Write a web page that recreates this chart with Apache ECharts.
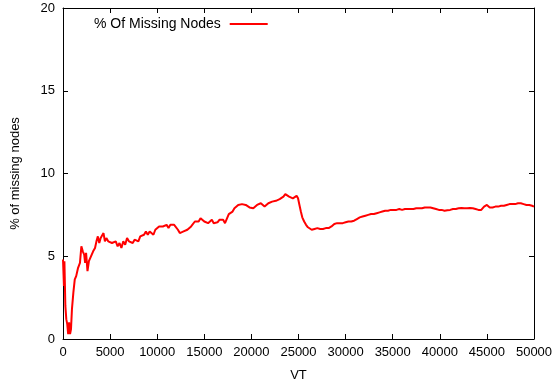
<!DOCTYPE html>
<html>
<head>
<meta charset="utf-8">
<script src="https://cdn.jsdelivr.net/npm/echarts@6/dist/echarts.min.js"></script>
<style>
  html, body { margin: 0; padding: 0; background: #fff; }
  #chart { width: 555px; height: 385px; }
</style>
</head>
<body>
<div id="chart"></div>
<script>
const seriesName = '% Of Missing Nodes'
const xTicks = [0, 5000, 10000, 15000, 20000, 25000, 30000, 35000, 40000, 45000, 50000]
const yTicks = [0, 5, 10, 15, 20]

// VT positions and matching % of missing nodes
const vt = [
  0, 100, 150, 250, 350, 450, 550, 650, 750, 850, 950, 1100, 1250, 1400, 1600, 1800, 1950, 2100, 2250, 2350,
  2450, 2600, 2750, 2900, 3050, 3200, 3400, 3550, 3700, 3850, 4000, 4150, 4300, 4450, 4600, 4800, 5000, 5200, 5400, 5600,
  5800, 6000, 6200, 6400, 6600, 6800, 7000, 7200, 7400, 7600, 7800, 8000, 8200, 8400, 8600, 8800, 9000, 9200, 9400, 9600,
  9800, 10000, 10200, 10400, 10600, 10800, 11000, 11200, 11400, 11600, 11800, 12000, 12200, 12400, 12600, 12800, 13000, 13200, 13400, 13600,
  13800, 14000, 14200, 14400, 14600, 14800, 15000, 15200, 15400, 15600, 15800, 16000, 16200, 16400, 16600, 16800, 17000, 17200, 17400, 17600,
  17800, 18000, 18200, 18400, 18600, 18800, 19000, 19200, 19400, 19600, 19800, 20000, 20200, 20400, 20600, 20800, 21000, 21200, 21400, 21600,
  21800, 22000, 22200, 22400, 22600, 22800, 23000, 23200, 23400, 23600, 23800, 24000, 24200, 24400, 24600, 24800, 24950, 25100, 25250, 25400,
  25600, 25800, 26000, 26200, 26400, 26700, 27000, 27300, 27600, 27900, 28200, 28500, 28800, 29100, 29400, 29700, 30000, 30300, 30600, 30900,
  31200, 31500, 31800, 32100, 32400, 32700, 33000, 33300, 33600, 33900, 34200, 34500, 34800, 35100, 35400, 35700, 36000, 36300, 36600, 36900,
  37200, 37500, 37800, 38100, 38400, 38700, 39000, 39300, 39600, 39900, 40200, 40500, 40800, 41100, 41400, 41700, 42000, 42300, 42600, 42900,
  43200, 43500, 43800, 44100, 44400, 44700, 45000, 45300, 45600, 45900, 46200, 46500, 46800, 47100, 47400, 47700, 48000, 48300, 48600, 48900,
  49200, 49500, 49800, 50000
]
const missing = [
  4.8, 3.2, 4.7, 2.0, 1.2, 0.9, 0.3, 1.0, 0.3, 0.6, 1.8, 2.8, 3.6, 3.8, 4.3, 4.6, 5.6, 5.3, 5.1, 4.6,
  5.2, 4.1, 4.7, 4.9, 5.0, 5.3, 5.5, 5.9, 6.2, 5.8, 6.1, 6.0, 6.4, 5.9, 6.1, 5.9, 6.0, 5.8, 5.7, 5.9,
  5.6, 5.8, 5.5, 5.9, 5.7, 6.1, 5.9, 6.0, 5.8, 6.0, 6.1, 5.9, 6.2, 6.1, 6.3, 6.5, 6.3, 6.5, 6.4, 6.3,
  6.6, 6.5, 6.8, 6.7, 6.8, 6.7, 6.9, 6.7, 6.9, 6.8, 6.9, 6.8, 6.6, 6.4, 6.4, 6.5, 6.5, 6.6, 6.6, 6.8,
  6.9, 7.1, 7.2, 7.1, 7.3, 7.2, 7.1, 7.2, 7.0, 7.1, 7.2, 7.0, 6.95, 7.05, 7.2, 7.1, 7.2, 7.0, 7.1, 7.55,
  7.6, 7.7, 7.9, 8.0, 8.1, 8.2, 8.15, 8.25, 8.1, 8.0, 7.95, 7.85, 7.9, 8.0, 8.1, 8.15, 8.2, 8.1, 8.0, 8.1,
  8.2, 8.25, 8.3, 8.3, 8.35, 8.4, 8.45, 8.5, 8.6, 8.75, 8.8, 8.6, 8.55, 8.5, 8.55, 8.65, 8.5, 8.1, 7.7, 7.35,
  7.1, 6.9, 6.75, 6.65, 6.6, 6.65, 6.7, 6.65, 6.65, 6.7, 6.7, 6.8, 6.95, 7.0, 7.0, 7.0, 7.05, 7.1, 7.1, 7.15,
  7.25, 7.35, 7.4, 7.45, 7.5, 7.55, 7.55, 7.6, 7.65, 7.7, 7.75, 7.75, 7.8, 7.8, 7.8, 7.85, 7.8, 7.85, 7.85, 7.85,
  7.85, 7.9, 7.9, 7.9, 7.95, 7.95, 7.95, 7.9, 7.85, 7.8, 7.8, 7.75, 7.78, 7.8, 7.85, 7.85, 7.9, 7.92, 7.9, 7.9,
  7.92, 7.9, 7.85, 7.8, 7.8, 8.0, 8.1, 7.95, 7.95, 8.0, 8.0, 8.05, 8.05, 8.1, 8.15, 8.15, 8.15, 8.2, 8.2, 8.15,
  8.1, 8.1, 8.05, 8.0
]

const font = 'Liberation Sans, Arial, sans-serif'
const chart = echarts.init(document.getElementById('chart'), null, { renderer: 'canvas' })

const boxAxis = (extra) => Object.assign({
  axisLine: { show: true, onZero: false, lineStyle: { color: '#000', width: 1 } },
  axisTick: { show: true, inside: true, length: 5, lineStyle: { color: '#000' } },
  splitLine: { show: false }
}, extra)

chart.setOption({
  animation: false,
  backgroundColor: '#fff',
  textStyle: { fontFamily: font },
  grid: { left: 63, top: 8, width: 471, height: 331, containLabel: false, outerBoundsMode: 'none' },
  legend: {
    left: 89,
    top: 12,
    align: 'right',
    itemWidth: 38,
    itemHeight: 2,
    icon: 'rect',
    formatter: name => name + ' ',
    textStyle: { fontFamily: font, fontSize: 14, color: '#000' },
    data: [seriesName]
  },
  xAxis: [
    boxAxis({
      type: 'value', min: 0, max: 50000, interval: 5000,
      name: 'VT', nameLocation: 'middle', nameGap: 30,
      nameTextStyle: { fontFamily: font, fontSize: 13, color: '#000' },
      axisLabel: { color: '#000', fontSize: 13, fontFamily: font, margin: 7, formatter: v => xTicks.includes(v) ? String(v) : '' }
    }),
    boxAxis({
      type: 'value', position: 'top', min: 0, max: 50000, interval: 5000,
      axisLabel: { show: false }
    })
  ],
  yAxis: [
    boxAxis({
      type: 'value', min: 0, max: 20, interval: 5,
      name: '% of missing nodes', nameLocation: 'middle', nameGap: 41,
      nameTextStyle: { fontFamily: font, fontSize: 13, color: '#000' },
      axisLabel: { color: '#000', fontSize: 13, fontFamily: font, margin: 8, formatter: v => yTicks.includes(v) ? String(v) : '' }
    }),
    boxAxis({
      type: 'value', position: 'right', min: 0, max: 20, interval: 5,
      axisLabel: { show: false }
    })
  ],
  series: [
    {
      name: seriesName,
      type: 'line',
      data: vt.map((x, i) => [x, missing[i]]),
      showSymbol: false,
      symbol: 'none',
      lineStyle: { color: '#ff0000', width: 2 },
      itemStyle: { color: '#ff0000' }
    }
  ]
})
</script>
</body>
</html>
